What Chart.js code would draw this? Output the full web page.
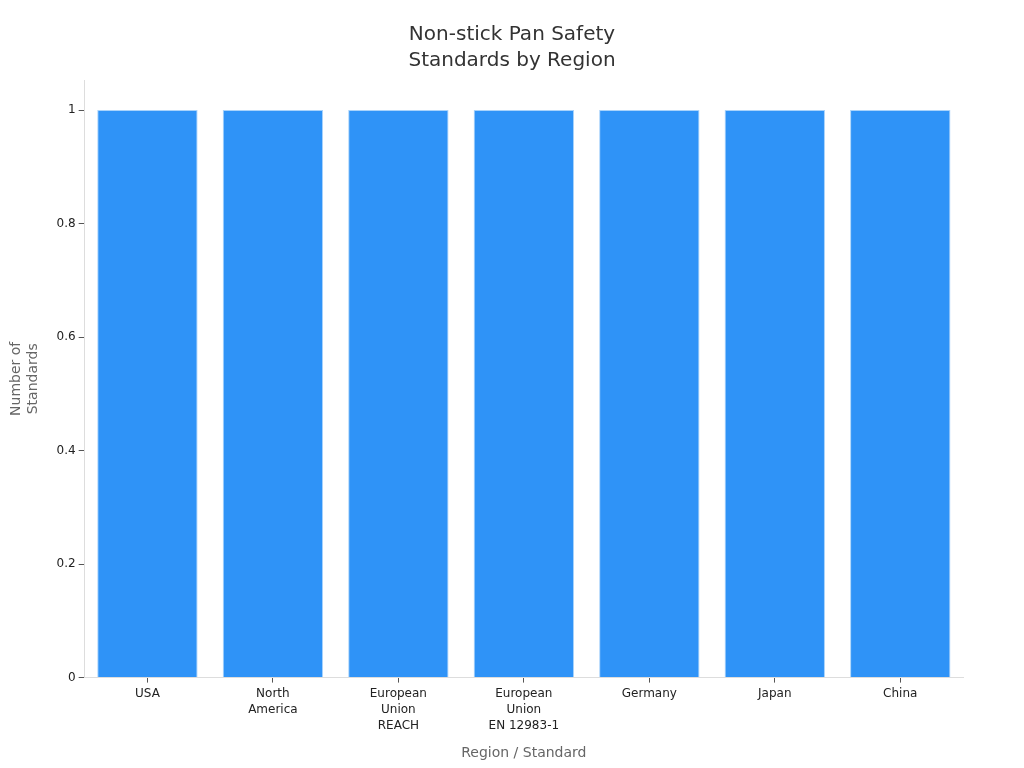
<!DOCTYPE html>
<html>
<head>
<meta charset="UTF-8">
<script src="https://cdn.jsdelivr.net/npm/chart.js"></script>
<style>
    body { margin: 0; background: #fff; }
    #wrap { width: 1024px; height: 768px; }
</style>
</head>
<body>
<div id="wrap"><canvas id="chart"></canvas></div>
<script>
    // Kategorien und Werte
    const regions = [
        'USA',
        ['North', 'America'],
        ['European', 'Union', 'REACH'],
        ['European', 'Union', 'EN 12983-1'],
        'Germany',
        'Japan',
        'China'
    ];
    const standardCounts = [1, 1, 1, 1, 1, 1, 1];
    const yTicks = [0, 0.2, 0.4, 0.6, 0.8, 1];

    // Titel über die ganze Breite zentrieren
    const centerTitle = {
        id: 'centerTitle',
        afterLayout(chart) {
            const t = chart.titleBlock;
            if (t) { t.left = 0; t.right = chart.width; t.width = chart.width; }
        }
    };

    Chart.defaults.font.family = 'DejaVu Sans';
    new Chart(document.getElementById('chart'), {
        type: 'bar',
        data: {
            labels: regions,
            datasets: [{
                label: 'Number of Standards',
                data: standardCounts,
                backgroundColor: '#2f93f7',
                borderColor: '#a9d3fb',
                borderWidth: 1,
                categoryPercentage: 0.8,
                barPercentage: 1
            }]
        },
        options: {
            responsive: true,
            maintainAspectRatio: false,
            animation: false,
            layout: { padding: { left: 4, right: 61, top: 12, bottom: 2 } },
            plugins: {
                legend: { display: false },
                title: {
                    display: true,
                    text: ['Non-stick Pan Safety', 'Standards by Region'],
                    color: '#333',
                    font: { size: 20, weight: 'normal', lineHeight: 1.3 },
                    padding: { top: 10, bottom: 6 }
                }
            },
            scales: {
                x: {
                    grid: { offset: false, drawOnChartArea: false, drawTicks: true, tickLength: 5, color: '#555' },
                    border: { color: '#ddd' },
                    ticks: { color: '#222', font: { size: 12, lineHeight: 1.35 }, maxRotation: 0 },
                    title: { display: true, text: 'Region / Standard', color: '#666', font: { size: 14 }, padding: { top: 8 } }
                },
                y: {
                    min: 0,
                    max: 1.053,
                    grid: { drawOnChartArea: false, drawTicks: true, tickLength: 6, color: '#555' },
                    border: { color: '#ddd' },
                    afterBuildTicks: axis => {
                        axis.ticks = yTicks.map(v => ({ value: v }));
                    },
                    ticks: { color: '#222', font: { size: 12 }, callback: v => String(v) },
                    title: { display: true, text: ['Number of', 'Standards'], color: '#666', font: { size: 14 }, padding: { bottom: 12 } }
                }
            }
        },
        plugins: [centerTitle]
    });
</script>
</body>
</html>
